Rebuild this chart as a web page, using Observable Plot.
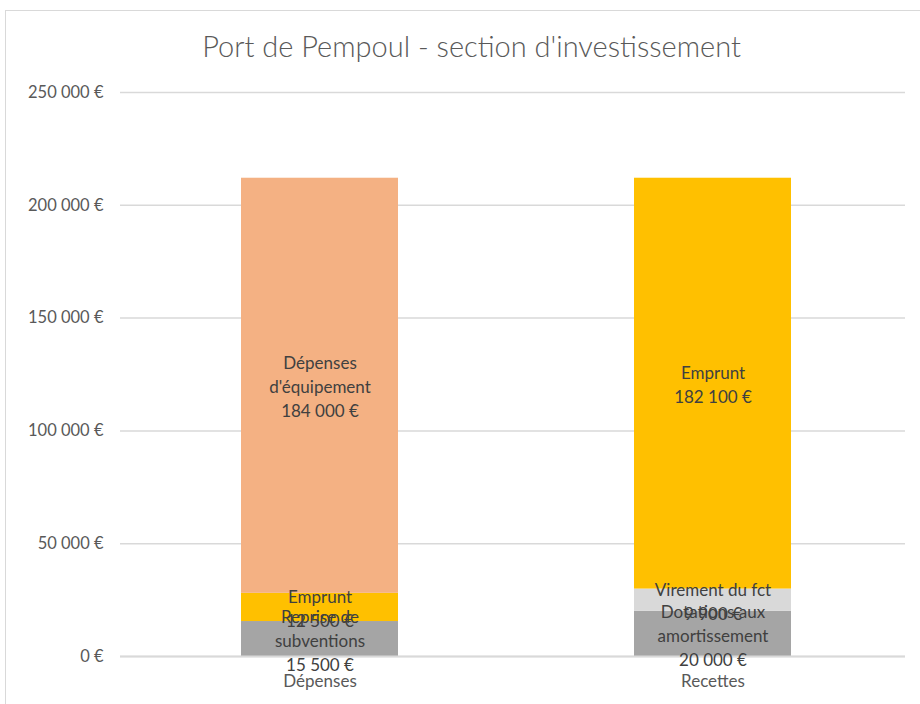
<!DOCTYPE html>
<html>
<head>
<meta charset="utf-8">
<script src="https://cdn.jsdelivr.net/npm/d3@7"></script>
<script src="https://cdn.jsdelivr.net/npm/@observablehq/plot@0.6"></script>
<style>
  html, body { margin: 0; padding: 0; background: #fff; width: 920px; height: 704px; overflow: hidden; }
  #frame { position: absolute; left: 5px; top: 10px; width: 935px; height: 720px; border: 1px solid #d9d9d9; box-sizing: border-box; }
  #title { position: absolute; left: 0; top: 28px; width: 943px; text-align: center; font-family: Lato, sans-serif; font-weight: 300; font-size: 29px; color: #595959; }
  #chart { position: absolute; left: 0; top: 80px; }
</style>
</head>
<body>
<div id="frame"></div>
<div id="title">Port de Pempoul - section d'investissement</div>
<div id="chart"></div>
<script>
const categories = ["Dépenses", "Recettes"];
const depensesSeries = ["Reprise de\nsubventions", "Emprunt", "Dépenses\nd'équipement"];
const depensesValues = [15500, 12500, 184000];
const recettesSeries = ["Dotations aux\namortissement", "Virement du fct", "Emprunt"];
const recettesValues = [20000, 9900, 182100];
const yTicks = [0, 50000, 100000, 150000, 200000, 250000];

const seriesColors = {
  "Reprise de\nsubventions": "#A5A5A5",
  "Emprunt": "#FFC000",
  "Dépenses\nd'équipement": "#F4B183",
  "Dotations aux\namortissement": "#A5A5A5",
  "Virement du fct": "#D9D9D9"
};

const data = [
  ...depensesSeries.map((s, i) => ({cat: categories[0], series: s, key: categories[0] + s, value: depensesValues[i]})),
  ...recettesSeries.map((s, i) => ({cat: categories[1], series: s, key: categories[1] + s, value: recettesValues[i]}))
];

const fr = d3.formatLocale({decimal: ",", thousands: "\u00a0", grouping: [3], currency: ["", "\u00a0€"]});
const fmt = v => fr.format(",.0f")(v) + "\u00a0€";

const colorDomain = Object.keys(seriesColors);
const colorRange = colorDomain.map(k => seriesColors[k]);

const plot = Plot.plot({
  width: 920,
  height: 624,
  marginLeft: 120,
  marginRight: 15,
  marginTop: 12,
  marginBottom: 48,
  style: {fontFamily: "Lato, sans-serif", fontSize: "16px", color: "#595959", background: "transparent"},
  x: {domain: categories, range: [123, 910], paddingInner: 0.6, paddingOuter: 0.3, label: null},
  y: {domain: [0, 250000], label: null},
  color: {domain: colorDomain, range: colorRange},
  marks: [
    Plot.gridY(yTicks, {stroke: "#d9d9d9", strokeOpacity: 1, strokeWidth: 1.5}),
    Plot.axisY(yTicks, {tickSize: 0, tickPadding: 17, tickFormat: fmt, fontSize: 16.5, fill: "#595959", label: null}),
    Plot.axisX({tickSize: 0, tickPadding: 18, fontSize: 17, fill: "#595959", label: null}),
    Plot.barY(data, Plot.stackY({x: "cat", y: "value", z: "key", fill: "series"})),
    Plot.ruleY([0], {stroke: "#d9d9d9", strokeWidth: 2}),
    Plot.text(data, Plot.stackY({x: "cat", y: "value", z: "key", text: d => d.series + "\n" + fmt(d.value), fill: "#404040", fontSize: 17, lineHeight: 1.41}))
  ]
});
document.getElementById("chart").appendChild(plot);
</script>
</body>
</html>
